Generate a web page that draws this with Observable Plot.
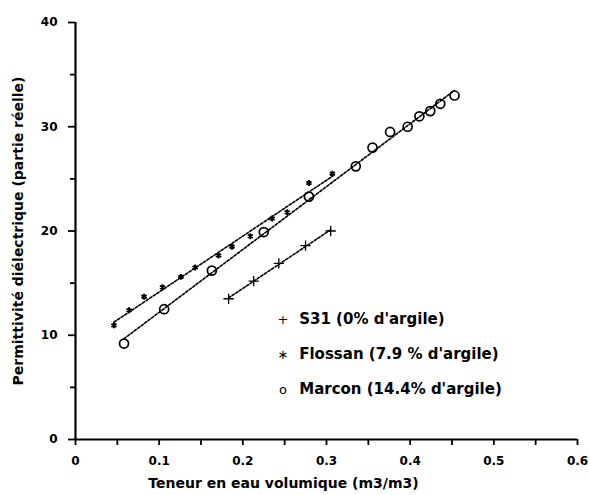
<!DOCTYPE html>
<html><head><meta charset="utf-8">
<script src="https://cdn.jsdelivr.net/npm/d3@7"></script>
<script src="https://cdn.jsdelivr.net/npm/@observablehq/plot@0.6"></script>
<style>
html,body{margin:0;padding:0;background:#fff;}
#wrap{position:relative;width:590px;height:495px;}
#legend{position:absolute;left:272px;top:302px;font-family:"DejaVu Sans",sans-serif;font-weight:bold;font-size:15px;line-height:34px;color:#000;}
#legend .sym{display:inline-block;width:22px;text-align:center;font-weight:normal;font-size:13px;}
</style>
</head><body>
<div id="wrap"><div id="chart"></div><div id="legend"></div></div>
<script>
// S31 (0% d'argile)
const s31X = [0.183, 0.213, 0.243, 0.275, 0.305];
const s31Y = [13.5, 15.2, 16.9, 18.6, 20.0];
// Flossan (7.9 % d'argile)
const flossanX = [0.046, 0.064, 0.082, 0.104, 0.126, 0.143, 0.171, 0.187, 0.209, 0.235, 0.253, 0.279, 0.307];
const flossanY = [10.95, 12.4, 13.7, 14.6, 15.6, 16.5, 17.65, 18.5, 19.5, 21.2, 21.8, 24.6, 25.5];
// Marcon (14.4% d'argile)
const marconX = [0.058, 0.106, 0.163, 0.225, 0.279, 0.335, 0.355, 0.376, 0.397, 0.411, 0.424, 0.436, 0.453];
const marconY = [9.2, 12.5, 16.2, 19.9, 23.3, 26.2, 28.0, 29.5, 30.0, 31.0, 31.5, 32.2, 33.0];

const seriesNames = ["S31 (0% d'argile)", "Flossan (7.9 % d'argile)", "Marcon (14.4% d'argile)"];
const seriesSymbols = ["plus", "asterisk", "circle"];
const legendGlyphs = ["+", "\u2217", "o"];

const xTicks = [0, 0.1, 0.2, 0.3, 0.4, 0.5, 0.6];
const xTickLabels = ["0", "0.1", "0.2", "0.3", "0.4", "0.5", "0.6"];
const xMinorTicks = [0.05, 0.15, 0.25, 0.35, 0.45, 0.55];
const yTicks = [0, 10, 20, 30, 40];
const yMinorTicks = [5, 15, 25, 35];
const xLabel = "Teneur en eau volumique (m3/m3)";
const yLabel = "Permittivité diélectrique (partie réelle)";

const toRows = (xs, ys) => xs.map((x, i) => ({x, y: ys[i]}));
const s31 = toRows(s31X, s31Y);
const flossan = toRows(flossanX, flossanY);
const marcon = toRows(marconX, marconY);
const allSeries = [s31, flossan, marcon];

const fitStyle = {x: "x", y: "y", ci: 0, stroke: "#000", strokeWidth: 1.6, strokeDasharray: "2.5,1.8"};

const chart = Plot.plot({
  width: 590,
  height: 495,
  marginTop: 22,
  marginRight: 13,
  marginBottom: 56,
  marginLeft: 75,
  style: {fontFamily: "DejaVu Sans, sans-serif", fontWeight: "bold", fontSize: "12px", background: "#fff", color: "#000"},
  x: {domain: [0, 0.6]},
  y: {domain: [0, 40]},
  marks: [
    Plot.axisX({ticks: xMinorTicks, tickSize: 6, text: null, label: null, strokeWidth: 1.8, strokeOpacity: 1}),
    Plot.axisX({ticks: xTicks, tickFormat: (d) => xTickLabels[xTicks.indexOf(d)], tickSize: 6, tickPadding: 11, strokeWidth: 1.8, strokeOpacity: 1,
      label: xLabel, labelAnchor: "center", labelArrow: "none", labelOffset: 48, fontSize: 12}),
    Plot.axisY({ticks: yMinorTicks, tickSize: 5, text: null, label: null, strokeWidth: 1.8, strokeOpacity: 1}),
    Plot.axisY({ticks: yTicks, tickFormat: (d) => String(d), tickSize: 7, tickPadding: 11, strokeWidth: 1.8, strokeOpacity: 1,
      label: yLabel, labelAnchor: "center", labelArrow: "none", labelOffset: 62, fontSize: 12}),
    Plot.ruleY([0], {stroke: "#000", strokeWidth: 2.2}),
    Plot.ruleX([0], {stroke: "#000", strokeWidth: 2.2}),
    ...allSeries.map((d) => Plot.linearRegressionY(d, fitStyle)),
    Plot.dot(s31, {x: "x", y: "y", symbol: seriesSymbols[0], r: 3.4, stroke: "#000", strokeWidth: 1.3}),
    Plot.dot(flossan, {x: "x", y: "y", symbol: seriesSymbols[1], r: 2.8, stroke: "#000", strokeWidth: 1.9}),
    Plot.dot(marcon, {x: "x", y: "y", symbol: seriesSymbols[2], r: 4.5, stroke: "#000", strokeWidth: 1.7, fill: "none"})
  ]
});
// axis titles: larger text, x title shifted left as in the original
chart.querySelectorAll("[aria-label='x-axis label'] text, [aria-label='y-axis label'] text").forEach(t => t.setAttribute("font-size", "14"));
const xl = chart.querySelector("[aria-label='x-axis label']");
if (xl) xl.setAttribute("transform", ((xl.getAttribute("transform") || "") + " translate(-43,0)").trim());
document.getElementById("chart").appendChild(chart);

const legend = document.getElementById("legend");
seriesNames.forEach((name, i) => {
  const row = document.createElement("div");
  const s = document.createElement("span");
  s.className = "sym";
  s.textContent = legendGlyphs[i];
  row.appendChild(s);
  row.appendChild(document.createTextNode(" " + name));
  legend.appendChild(row);
});
</script>
</body></html>
